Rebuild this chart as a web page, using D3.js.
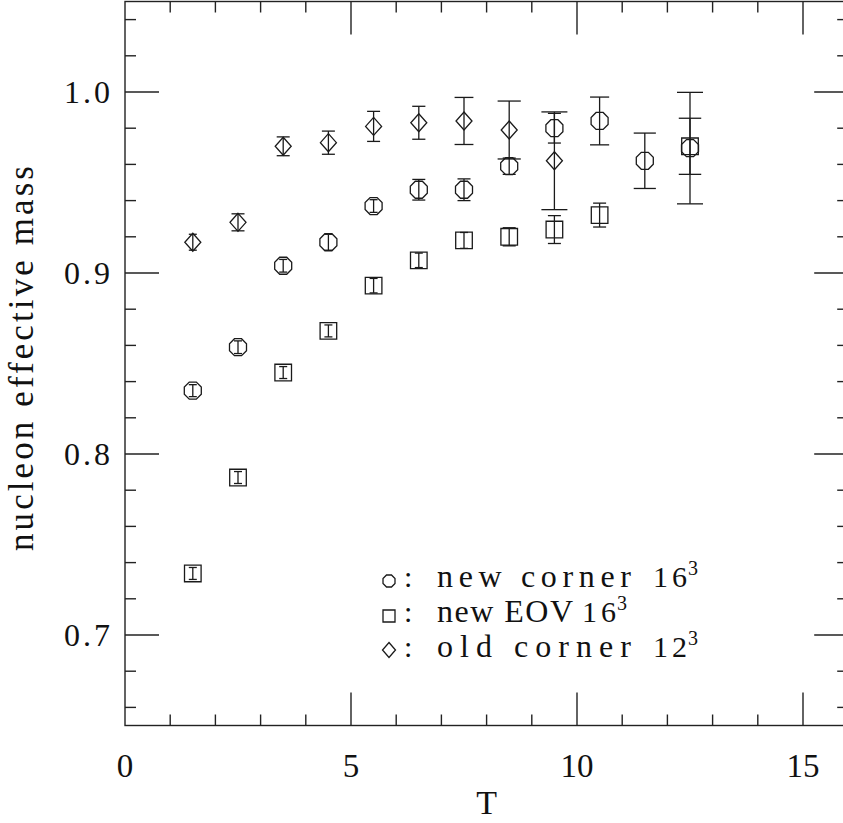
<!DOCTYPE html>
<meta charset="utf-8">
<style>
body { margin: 0; background: #fff; }
svg { display: block; }
.frame, .ticks line { fill: none; stroke: #222; stroke-width: 1.4; }
.bars line, .marks path { fill: none; stroke: #1a1a1a; stroke-width: 1.3; }
text { font-family: "Liberation Serif", serif; fill: #111; }
</style>
<svg width="843" height="823"></svg>
<script src="https://d3js.org/d3.v7.min.js"></script>
<script>

// new corner 16^3 (octagons)
var tCorner = [1.5, 2.5, 3.5, 4.5, 5.5, 6.5, 7.5, 8.5, 9.5, 10.5, 11.5, 12.5];
var mCorner = [0.835, 0.859, 0.904, 0.917, 0.937, 0.946, 0.946, 0.959, 0.980, 0.984, 0.962, 0.969];
var eCorner = [0.0033, 0.0035, 0.0035, 0.0044, 0.0035, 0.0057, 0.006, 0.0045, 0.0082, 0.0132, 0.0153, 0.0308];

// new EOV 16^3 (squares)
var tEov = [1.5, 2.5, 3.5, 4.5, 5.5, 6.5, 7.5, 8.5, 9.5, 10.5, 12.5];
var mEov = [0.734, 0.787, 0.845, 0.868, 0.893, 0.907, 0.918, 0.920, 0.924, 0.932, 0.970];
var eEov = [0.0033, 0.0033, 0.0033, 0.0033, 0.004, 0.004, 0.0044, 0.005, 0.0077, 0.0066, 0.0155];

// old corner 12^3 (diamonds)
var tOld = [1.5, 2.5, 3.5, 4.5, 5.5, 6.5, 7.5, 8.5, 9.5];
var mOld = [0.917, 0.928, 0.970, 0.972, 0.981, 0.983, 0.984, 0.979, 0.962];
var eOld = [0.0044, 0.0047, 0.0052, 0.0064, 0.0083, 0.0091, 0.013, 0.016, 0.027];

var xTicks = [0, 5, 10, 15];
var yTicks = [0.7, 0.8, 0.9, 1.0];
var legendNames = ["new corner", "new EOV", "old corner"];
var legendSizes = ["16", "16", "12"];

var svg = d3.select("svg");

var x = d3.scaleLinear().domain([0, 16]).range([125, 848.2]);
var y = d3.scaleLinear().domain([0.65, 1.05]).range([725.5, 1.5]);

var x0 = x.range()[0], x1 = x.range()[1], y0 = y.range()[0], y1 = y.range()[1];

svg.append("rect").attr("class", "frame")
    .attr("x", x0).attr("y", y1).attr("width", x1 - x0).attr("height", y0 - y1);

var xMinor = d3.range(1, 16).filter(function(d) { return d % 5; });
var yMinor = d3.range(0, 20).map(function(i) { return 0.66 + i * 0.02; })
    .filter(function(d) { return Math.abs(d * 10 - Math.round(d * 10)) > 1e-6; });

var ticks = svg.append("g").attr("class", "ticks");
function tickLines(vals, len, horiz) {
  vals.forEach(function(v) {
    if (horiz) {
      ticks.append("line").attr("x1", x(v)).attr("x2", x(v)).attr("y1", y0).attr("y2", y0 - len);
      ticks.append("line").attr("x1", x(v)).attr("x2", x(v)).attr("y1", y1).attr("y2", y1 + len);
    } else {
      ticks.append("line").attr("y1", y(v)).attr("y2", y(v)).attr("x1", x0).attr("x2", x0 + len);
      ticks.append("line").attr("y1", y(v)).attr("y2", y(v)).attr("x1", x1).attr("x2", x1 - len);
    }
  });
}
tickLines(xTicks.slice(1), 33, true);
tickLines(xMinor, 11, true);
tickLines(yTicks, 34, false);
tickLines(yMinor, 11, false);

svg.append("g").selectAll("text").data(xTicks).enter().append("text")
    .attr("x", function(d) { return x(d); })
    .attr("y", 777)
    .attr("text-anchor", "middle")
    .attr("font-size", 33)
    .text(function(d) { return d; });

svg.append("g").selectAll("text").data(yTicks).enter().append("text")
    .attr("x", 110)
    .attr("y", function(d) { return y(d) + 11; })
    .attr("text-anchor", "end")
    .attr("font-size", 32)
    .attr("textLength", 46).attr("lengthAdjust", "spacing")
    .text(function(d) { return d.toFixed(1); });

svg.append("text")
    .attr("x", (x0 + x1) / 2).attr("y", 814)
    .attr("text-anchor", "middle").attr("font-size", 34)
    .text("T");

svg.append("text")
    .attr("transform", "translate(33,359) rotate(-90)")
    .attr("x", -192).attr("y", 0)
    .attr("font-size", 35)
    .attr("textLength", 385).attr("lengthAdjust", "spacing")
    .text("nucleon effective mass");

// marker shapes
function octagon(r) {
  var R = r / Math.cos(Math.PI / 8), p = [];
  for (var k = 0; k < 8; k++) {
    var a = Math.PI / 8 + k * Math.PI / 4;
    p.push([R * Math.cos(a), R * Math.sin(a)]);
  }
  return "M" + p.join("L") + "Z";
}
function square(h) { return "M" + -h + "," + -h + "H" + h + "V" + h + "H" + -h + "Z"; }
function diamond(w, h) { return "M0," + -h + "L" + w + ",0L0," + h + "L" + -w + ",0Z"; }

function capWidth(px) {
  return px < 8 ? 8 : Math.max(13, Math.min(26, 0.8 * px));
}

function series(ts, ms, es, shape) {
  var data = ts.map(function(t, i) { return {t: t, m: ms[i], e: es[i]}; });
  var bars = svg.append("g").attr("class", "bars");
  data.forEach(function(d) {
    var cx = x(d.t), ya = y(d.m + d.e), yb = y(d.m - d.e), w = capWidth((yb - ya) / 2) / 2;
    bars.append("line").attr("x1", cx).attr("x2", cx).attr("y1", ya).attr("y2", yb);
    bars.append("line").attr("x1", cx - w).attr("x2", cx + w).attr("y1", ya).attr("y2", ya);
    bars.append("line").attr("x1", cx - w).attr("x2", cx + w).attr("y1", yb).attr("y2", yb);
  });
  svg.append("g").attr("class", "marks").selectAll("path").data(data).enter().append("path")
      .attr("transform", function(d) { return "translate(" + x(d.t) + "," + y(d.m) + ")"; })
      .attr("d", shape);
}

series(tCorner, mCorner, eCorner, octagon(8.5));
series(tEov, mEov, eEov, square(8.3));
series(tOld, mOld, eOld, diamond(8, 9));

// legend
var legShapes = [octagon(6), square(6), diamond(6.5, 7.5)];
var legW = [194, 136, 194];
var numX = [653, 582, 653];
var legend = svg.append("g").attr("class", "marks");
legendNames.forEach(function(name, i) {
  var base = 587 + i * 35;
  legend.append("path").attr("transform", "translate(389," + (base - 6 - (i == 2 ? 1 : 0)) + ")")
      .attr("d", legShapes[i]);
  legend.append("text").attr("x", 404).attr("y", base).attr("font-size", 30).text(":");
  legend.append("text").attr("x", 437).attr("y", base).attr("font-size", 32)
      .attr("textLength", legW[i]).attr("lengthAdjust", "spacing").text(name);
  legend.append("text").attr("x", numX[i]).attr("y", base).attr("font-size", 30)
      .attr("textLength", 34).attr("lengthAdjust", "spacing").text(legendSizes[i]);
  legend.append("text").attr("x", numX[i] + 35).attr("y", base - 12).attr("font-size", 20).text("3");
});

</script>
